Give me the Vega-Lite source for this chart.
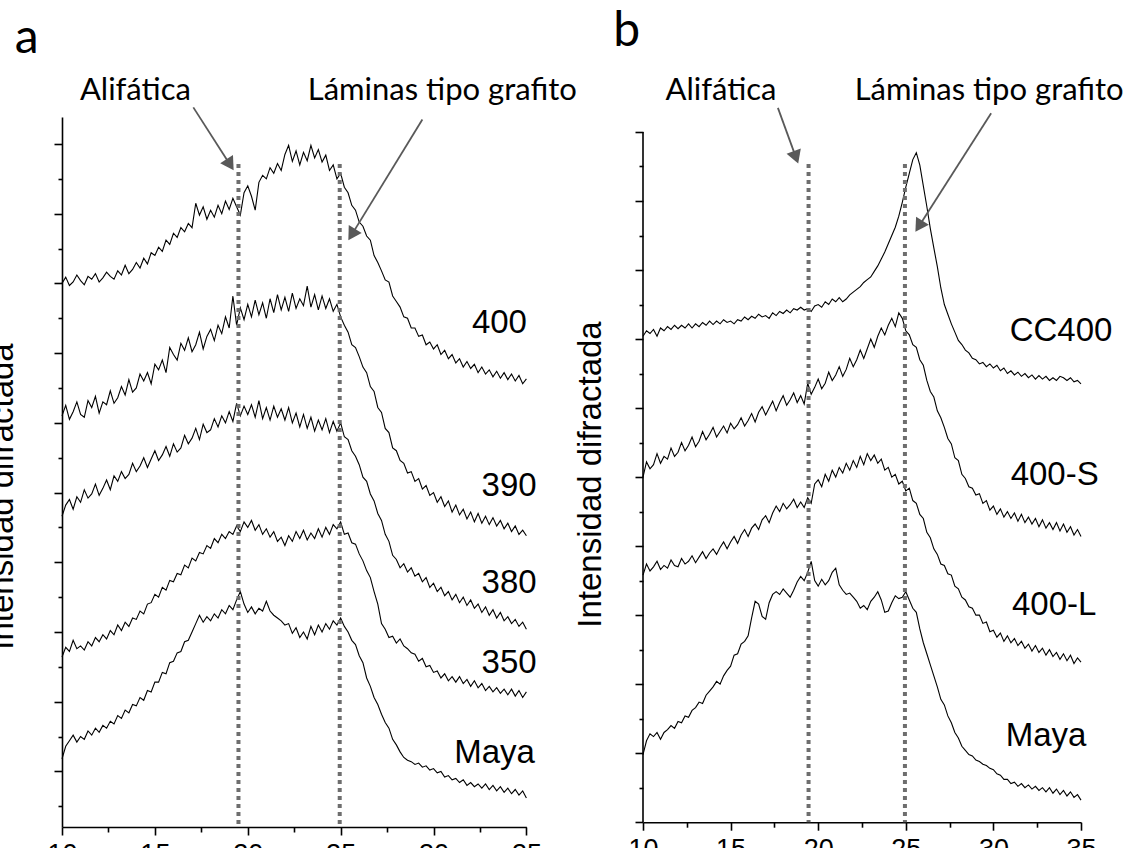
{
"$schema": "https://vega.github.io/schema/vega-lite/v6.json",
"padding": {"left": -14, "top": 8, "right": 0, "bottom": 0},
"background": "white",
"bounds": "flush",
"spacing": 116,
"config": {
  "view": {"stroke": null},
  "axis": {"grid": false, "domainColor": "#000", "tickColor": "#000", "domainWidth": 1.6, "tickWidth": 1.6, "labelColor": "#000", "labelFont": "Liberation Sans", "titleFont": "Liberation Sans", "titleFontWeight": "normal", "titleColor": "#000"}
},
"datasets": {
"a": [
{"x":10.0,"400":8.00,"390":6.10,"380":4.66,"350":2.64,"Maya":1.18},
{"x":10.2,"400":8.09,"390":6.25,"380":4.82,"350":2.78,"Maya":1.36},
{"x":10.4,"400":7.97,"390":6.05,"380":4.90,"350":2.72,"Maya":1.44},
{"x":10.6,"400":8.02,"390":6.16,"380":4.76,"350":2.88,"Maya":1.52},
{"x":10.8,"400":8.12,"390":6.30,"380":4.94,"350":2.76,"Maya":1.42},
{"x":11.0,"400":8.04,"390":6.12,"380":4.86,"350":2.80,"Maya":1.50},
{"x":11.2,"400":7.98,"390":6.08,"380":5.04,"350":2.74,"Maya":1.46},
{"x":11.4,"400":8.10,"390":6.32,"380":4.92,"350":2.86,"Maya":1.58},
{"x":11.6,"400":8.06,"390":6.22,"380":4.98,"350":2.80,"Maya":1.52},
{"x":11.8,"400":8.14,"390":6.38,"380":5.12,"350":2.92,"Maya":1.62},
{"x":12.0,"400":8.02,"390":6.14,"380":4.96,"350":2.86,"Maya":1.56},
{"x":12.2,"400":8.08,"390":6.30,"380":5.06,"350":2.96,"Maya":1.66},
{"x":12.4,"400":8.16,"390":6.26,"380":5.18,"350":2.90,"Maya":1.62},
{"x":12.6,"400":8.10,"390":6.46,"380":5.04,"350":3.02,"Maya":1.72},
{"x":12.8,"400":8.06,"390":6.28,"380":5.24,"350":2.96,"Maya":1.68},
{"x":13.0,"400":8.18,"390":6.36,"380":5.16,"350":3.10,"Maya":1.80},
{"x":13.2,"400":8.12,"390":6.52,"380":5.30,"350":3.02,"Maya":1.76},
{"x":13.4,"400":8.26,"390":6.40,"380":5.20,"350":3.14,"Maya":1.88},
{"x":13.6,"400":8.14,"390":6.62,"380":5.26,"350":3.08,"Maya":1.84},
{"x":13.8,"400":8.20,"390":6.44,"380":5.42,"350":3.20,"Maya":1.96},
{"x":14.0,"400":8.30,"390":6.50,"380":5.30,"350":3.18,"Maya":1.94},
{"x":14.2,"400":8.22,"390":6.70,"380":5.38,"350":3.30,"Maya":2.06},
{"x":14.4,"400":8.36,"390":6.60,"380":5.50,"350":3.26,"Maya":2.02},
{"x":14.6,"400":8.28,"390":6.72,"380":5.36,"350":3.40,"Maya":2.16},
{"x":14.8,"400":8.44,"390":6.56,"380":5.48,"350":3.42,"Maya":2.14},
{"x":15.0,"400":8.40,"390":6.84,"380":5.60,"350":3.54,"Maya":2.28},
{"x":15.2,"400":8.52,"390":6.76,"380":5.46,"350":3.50,"Maya":2.28},
{"x":15.4,"400":8.46,"390":6.90,"380":5.54,"350":3.64,"Maya":2.42},
{"x":15.6,"400":8.62,"390":6.72,"380":5.66,"350":3.60,"Maya":2.40},
{"x":15.8,"400":8.56,"390":7.08,"380":5.52,"350":3.74,"Maya":2.56},
{"x":16.0,"400":8.72,"390":6.98,"380":5.70,"350":3.72,"Maya":2.58},
{"x":16.2,"400":8.66,"390":6.90,"380":5.58,"350":3.84,"Maya":2.70},
{"x":16.4,"400":8.80,"390":7.14,"380":5.64,"350":3.82,"Maya":2.72},
{"x":16.6,"400":8.74,"390":7.04,"380":5.82,"350":3.96,"Maya":2.86},
{"x":16.8,"400":8.86,"390":7.22,"380":5.70,"350":3.92,"Maya":2.88},
{"x":17.0,"400":8.80,"390":7.02,"380":5.78,"350":4.06,"Maya":3.00},
{"x":17.2,"400":9.15,"390":7.12,"380":5.92,"350":4.02,"Maya":3.12},
{"x":17.4,"400":8.98,"390":7.30,"380":5.76,"350":4.14,"Maya":3.24},
{"x":17.6,"400":9.10,"390":7.06,"380":5.98,"350":4.12,"Maya":3.14},
{"x":17.8,"400":8.92,"390":7.24,"380":5.86,"350":4.24,"Maya":3.22},
{"x":18.0,"400":9.05,"390":7.34,"380":5.90,"350":4.20,"Maya":3.16},
{"x":18.2,"400":8.95,"390":7.18,"380":6.06,"350":4.34,"Maya":3.26},
{"x":18.4,"400":9.12,"390":7.40,"380":5.94,"350":4.28,"Maya":3.20},
{"x":18.6,"400":9.00,"390":7.28,"380":6.10,"350":4.40,"Maya":3.32},
{"x":18.8,"400":9.18,"390":7.52,"380":6.00,"350":4.34,"Maya":3.26},
{"x":19.0,"400":9.06,"390":7.36,"380":6.16,"350":4.44,"Maya":3.38},
{"x":19.2,"400":9.22,"390":7.82,"380":6.02,"350":4.40,"Maya":3.32},
{"x":19.4,"400":9.10,"390":7.40,"380":6.28,"350":4.52,"Maya":3.46},
{"x":19.6,"400":8.98,"390":7.65,"380":6.10,"350":4.44,"Maya":3.58},
{"x":19.8,"400":9.30,"390":7.48,"380":6.24,"350":4.58,"Maya":3.40},
{"x":20.0,"400":9.40,"390":7.70,"380":6.12,"350":4.50,"Maya":3.28},
{"x":20.2,"400":9.25,"390":7.52,"380":6.26,"350":4.60,"Maya":3.36},
{"x":20.4,"400":9.05,"390":7.76,"380":6.08,"350":4.46,"Maya":3.26},
{"x":20.6,"400":9.45,"390":7.55,"380":6.32,"350":4.54,"Maya":3.34},
{"x":20.8,"400":9.55,"390":7.72,"380":6.06,"350":4.40,"Maya":3.30},
{"x":21.0,"400":9.50,"390":7.50,"380":6.22,"350":4.48,"Maya":3.44},
{"x":21.2,"400":9.66,"390":7.78,"380":6.04,"350":4.36,"Maya":3.30},
{"x":21.4,"400":9.58,"390":7.58,"380":6.24,"350":4.44,"Maya":3.24},
{"x":21.6,"400":9.72,"390":7.84,"380":6.08,"350":4.30,"Maya":3.20},
{"x":21.8,"400":9.62,"390":7.62,"380":6.20,"350":4.36,"Maya":3.16},
{"x":22.0,"400":9.85,"390":7.80,"380":6.04,"350":4.24,"Maya":3.10},
{"x":22.2,"400":9.98,"390":7.60,"380":6.22,"350":4.38,"Maya":3.12},
{"x":22.4,"400":9.75,"390":7.86,"380":6.00,"350":4.30,"Maya":2.98},
{"x":22.6,"400":9.90,"390":7.64,"380":6.14,"350":4.44,"Maya":3.06},
{"x":22.8,"400":9.70,"390":7.78,"380":5.94,"350":4.34,"Maya":2.92},
{"x":23.0,"400":9.88,"390":7.68,"380":6.12,"350":4.46,"Maya":3.00},
{"x":23.2,"400":9.76,"390":7.96,"380":5.92,"350":4.32,"Maya":2.90},
{"x":23.4,"400":9.98,"390":7.66,"380":6.08,"350":4.42,"Maya":3.08},
{"x":23.6,"400":9.80,"390":7.84,"380":5.88,"350":4.34,"Maya":2.96},
{"x":23.8,"400":9.92,"390":7.62,"380":6.04,"350":4.48,"Maya":3.10},
{"x":24.0,"400":9.74,"390":7.82,"380":5.90,"350":4.36,"Maya":3.00},
{"x":24.2,"400":9.84,"390":7.64,"380":6.06,"350":4.50,"Maya":3.12},
{"x":24.4,"400":9.62,"390":7.78,"380":5.86,"350":4.40,"Maya":3.04},
{"x":24.6,"400":9.70,"390":7.60,"380":6.02,"350":4.54,"Maya":3.16},
{"x":24.8,"400":9.50,"390":7.70,"380":5.88,"350":4.48,"Maya":3.10},
{"x":25.0,"400":9.58,"390":7.52,"380":6.00,"350":4.58,"Maya":3.20},
{"x":25.2,"400":9.38,"390":7.40,"380":5.80,"350":4.40,"Maya":3.08},
{"x":25.4,"400":9.30,"390":7.30,"380":5.76,"350":4.42,"Maya":3.00},
{"x":25.6,"400":9.12,"390":7.12,"380":5.60,"350":4.28,"Maya":2.88},
{"x":25.8,"400":9.05,"390":7.08,"380":5.52,"350":4.26,"Maya":2.82},
{"x":26.0,"400":8.88,"390":6.95,"380":5.40,"350":4.12,"Maya":2.66},
{"x":26.2,"400":8.82,"390":6.80,"380":5.22,"350":4.02,"Maya":2.56},
{"x":26.4,"400":8.68,"390":6.72,"380":5.16,"350":3.88,"Maya":2.34},
{"x":26.6,"400":8.62,"390":6.52,"380":4.98,"350":3.78,"Maya":2.22},
{"x":26.8,"400":8.40,"390":6.45,"380":4.88,"350":3.58,"Maya":2.06},
{"x":27.0,"400":8.30,"390":6.22,"380":4.70,"350":3.40,"Maya":1.96},
{"x":27.2,"400":8.18,"390":6.15,"380":4.60,"350":3.12,"Maya":1.82},
{"x":27.4,"400":8.05,"390":5.92,"380":4.40,"350":3.04,"Maya":1.70},
{"x":27.6,"400":8.02,"390":5.86,"380":4.30,"350":2.92,"Maya":1.62},
{"x":27.8,"400":7.82,"390":5.64,"380":4.10,"350":2.94,"Maya":1.46},
{"x":28.0,"400":7.74,"390":5.60,"380":4.04,"350":2.84,"Maya":1.38},
{"x":28.2,"400":7.66,"390":5.46,"380":3.92,"350":2.90,"Maya":1.28},
{"x":28.4,"400":7.52,"390":5.42,"380":3.98,"350":2.80,"Maya":1.20},
{"x":28.6,"400":7.50,"390":5.28,"380":3.86,"350":2.76,"Maya":1.16},
{"x":28.8,"400":7.36,"390":5.30,"380":3.92,"350":2.70,"Maya":1.14},
{"x":29.0,"400":7.36,"390":5.16,"380":3.80,"350":2.68,"Maya":1.10},
{"x":29.2,"400":7.24,"390":5.20,"380":3.84,"350":2.58,"Maya":1.12},
{"x":29.4,"400":7.26,"390":5.05,"380":3.72,"350":2.62,"Maya":1.06},
{"x":29.6,"400":7.12,"390":5.10,"380":3.78,"350":2.50,"Maya":1.08},
{"x":29.8,"400":7.16,"390":4.96,"380":3.64,"350":2.52,"Maya":1.02},
{"x":30.0,"400":7.06,"390":5.00,"380":3.70,"350":2.42,"Maya":1.04},
{"x":30.2,"400":7.12,"390":4.86,"380":3.58,"350":2.44,"Maya":0.98},
{"x":30.4,"400":6.98,"390":4.94,"380":3.64,"350":2.34,"Maya":1.00},
{"x":30.6,"400":7.04,"390":4.80,"380":3.52,"350":2.40,"Maya":0.92},
{"x":30.8,"400":6.92,"390":4.88,"380":3.58,"350":2.30,"Maya":0.94},
{"x":31.0,"400":6.98,"390":4.72,"380":3.46,"350":2.36,"Maya":0.88},
{"x":31.2,"400":6.86,"390":4.82,"380":3.54,"350":2.28,"Maya":0.90},
{"x":31.4,"400":6.92,"390":4.68,"380":3.42,"350":2.36,"Maya":0.84},
{"x":31.6,"400":6.80,"390":4.76,"380":3.50,"350":2.26,"Maya":0.88},
{"x":31.8,"400":6.88,"390":4.62,"380":3.38,"350":2.32,"Maya":0.80},
{"x":32.0,"400":6.78,"390":4.72,"380":3.46,"350":2.22,"Maya":0.84},
{"x":32.2,"400":6.84,"390":4.58,"380":3.34,"350":2.30,"Maya":0.78},
{"x":32.4,"400":6.72,"390":4.70,"380":3.40,"350":2.20,"Maya":0.82},
{"x":32.6,"400":6.80,"390":4.56,"380":3.28,"350":2.26,"Maya":0.76},
{"x":32.8,"400":6.70,"390":4.66,"380":3.36,"350":2.16,"Maya":0.82},
{"x":33.0,"400":6.76,"390":4.54,"380":3.24,"350":2.22,"Maya":0.74},
{"x":33.2,"400":6.66,"390":4.64,"380":3.32,"350":2.14,"Maya":0.80},
{"x":33.4,"400":6.74,"390":4.52,"380":3.20,"350":2.20,"Maya":0.72},
{"x":33.6,"400":6.64,"390":4.60,"380":3.28,"350":2.12,"Maya":0.78},
{"x":33.8,"400":6.72,"390":4.48,"380":3.16,"350":2.18,"Maya":0.70},
{"x":34.0,"400":6.62,"390":4.56,"380":3.22,"350":2.10,"Maya":0.76},
{"x":34.2,"400":6.70,"390":4.44,"380":3.12,"350":2.18,"Maya":0.68},
{"x":34.4,"400":6.60,"390":4.52,"380":3.18,"350":2.08,"Maya":0.74},
{"x":34.6,"400":6.68,"390":4.40,"380":3.08,"350":2.16,"Maya":0.66},
{"x":34.8,"400":6.56,"390":4.46,"380":3.14,"350":2.06,"Maya":0.72},
{"x":35.0,"400":6.63,"390":4.38,"380":3.04,"350":2.14,"Maya":0.62}
],
"b": [
{"x":10.0,"CC400":7.04,"400-S":5.00,"400-L":3.58,"Maya":0.98},
{"x":10.2,"CC400":7.12,"400-S":5.22,"400-L":3.74,"Maya":1.18},
{"x":10.4,"CC400":7.08,"400-S":5.12,"400-L":3.64,"Maya":1.28},
{"x":10.6,"CC400":7.14,"400-S":5.18,"400-L":3.70,"Maya":1.24},
{"x":10.8,"CC400":7.04,"400-S":5.34,"400-L":3.78,"Maya":1.30},
{"x":11.0,"CC400":7.16,"400-S":5.20,"400-L":3.66,"Maya":1.20},
{"x":11.2,"CC400":7.12,"400-S":5.30,"400-L":3.72,"Maya":1.30},
{"x":11.4,"CC400":7.18,"400-S":5.26,"400-L":3.68,"Maya":1.34},
{"x":11.6,"CC400":7.14,"400-S":5.42,"400-L":3.80,"Maya":1.40},
{"x":11.8,"CC400":7.20,"400-S":5.30,"400-L":3.72,"Maya":1.36},
{"x":12.0,"CC400":7.15,"400-S":5.36,"400-L":3.70,"Maya":1.46},
{"x":12.2,"CC400":7.20,"400-S":5.50,"400-L":3.82,"Maya":1.44},
{"x":12.4,"CC400":7.16,"400-S":5.38,"400-L":3.74,"Maya":1.54},
{"x":12.6,"CC400":7.22,"400-S":5.46,"400-L":3.78,"Maya":1.52},
{"x":12.8,"CC400":7.16,"400-S":5.58,"400-L":3.86,"Maya":1.62},
{"x":13.0,"CC400":7.22,"400-S":5.44,"400-L":3.76,"Maya":1.66},
{"x":13.2,"CC400":7.18,"400-S":5.52,"400-L":3.84,"Maya":1.74},
{"x":13.4,"CC400":7.24,"400-S":5.66,"400-L":3.92,"Maya":1.72},
{"x":13.6,"CC400":7.20,"400-S":5.54,"400-L":3.82,"Maya":1.84},
{"x":13.8,"CC400":7.26,"400-S":5.62,"400-L":3.90,"Maya":1.90},
{"x":14.0,"CC400":7.21,"400-S":5.72,"400-L":3.96,"Maya":1.96},
{"x":14.2,"CC400":7.26,"400-S":5.58,"400-L":3.88,"Maya":2.04},
{"x":14.4,"CC400":7.22,"400-S":5.66,"400-L":3.98,"Maya":2.00},
{"x":14.6,"CC400":7.28,"400-S":5.74,"400-L":4.06,"Maya":2.12},
{"x":14.8,"CC400":7.24,"400-S":5.64,"400-L":3.96,"Maya":2.20},
{"x":15.0,"CC400":7.26,"400-S":5.78,"400-L":4.06,"Maya":2.26},
{"x":15.2,"CC400":7.22,"400-S":5.70,"400-L":4.14,"Maya":2.42},
{"x":15.4,"CC400":7.28,"400-S":5.76,"400-L":4.04,"Maya":2.44},
{"x":15.6,"CC400":7.26,"400-S":5.86,"400-L":4.16,"Maya":2.58},
{"x":15.8,"CC400":7.32,"400-S":5.74,"400-L":4.24,"Maya":2.62},
{"x":16.0,"CC400":7.28,"400-S":5.82,"400-L":4.14,"Maya":2.70},
{"x":16.2,"CC400":7.33,"400-S":5.92,"400-L":4.26,"Maya":2.96},
{"x":16.4,"CC400":7.30,"400-S":5.80,"400-L":4.32,"Maya":3.20},
{"x":16.6,"CC400":7.36,"400-S":5.94,"400-L":4.24,"Maya":3.16},
{"x":16.8,"CC400":7.32,"400-S":6.02,"400-L":4.38,"Maya":2.98},
{"x":17.0,"CC400":7.34,"400-S":5.90,"400-L":4.44,"Maya":2.94},
{"x":17.2,"CC400":7.30,"400-S":6.00,"400-L":4.34,"Maya":3.18},
{"x":17.4,"CC400":7.38,"400-S":6.10,"400-L":4.48,"Maya":3.30},
{"x":17.6,"CC400":7.34,"400-S":5.96,"400-L":4.58,"Maya":3.34},
{"x":17.8,"CC400":7.40,"400-S":6.08,"400-L":4.50,"Maya":3.30},
{"x":18.0,"CC400":7.37,"400-S":6.18,"400-L":4.62,"Maya":3.38},
{"x":18.2,"CC400":7.42,"400-S":6.04,"400-L":4.54,"Maya":3.32},
{"x":18.4,"CC400":7.38,"400-S":6.12,"400-L":4.60,"Maya":3.26},
{"x":18.6,"CC400":7.44,"400-S":6.22,"400-L":4.68,"Maya":3.36},
{"x":18.8,"CC400":7.42,"400-S":6.08,"400-L":4.56,"Maya":3.48},
{"x":19.0,"CC400":7.46,"400-S":6.18,"400-L":4.64,"Maya":3.56},
{"x":19.2,"CC400":7.42,"400-S":6.06,"400-L":4.56,"Maya":3.50},
{"x":19.4,"CC400":7.44,"400-S":6.36,"400-L":4.70,"Maya":3.62},
{"x":19.6,"CC400":7.40,"400-S":6.20,"400-L":4.62,"Maya":3.78},
{"x":19.8,"CC400":7.48,"400-S":6.30,"400-L":4.90,"Maya":3.50},
{"x":20.0,"CC400":7.50,"400-S":6.42,"400-L":4.96,"Maya":3.42},
{"x":20.2,"CC400":7.46,"400-S":6.28,"400-L":4.86,"Maya":3.52},
{"x":20.4,"CC400":7.54,"400-S":6.36,"400-L":5.04,"Maya":3.44},
{"x":20.6,"CC400":7.50,"400-S":6.52,"400-L":4.94,"Maya":3.50},
{"x":20.8,"CC400":7.58,"400-S":6.40,"400-L":5.10,"Maya":3.62},
{"x":21.0,"CC400":7.54,"400-S":6.48,"400-L":5.00,"Maya":3.68},
{"x":21.2,"CC400":7.60,"400-S":6.60,"400-L":5.14,"Maya":3.44},
{"x":21.4,"CC400":7.54,"400-S":6.46,"400-L":5.06,"Maya":3.36},
{"x":21.6,"CC400":7.58,"400-S":6.56,"400-L":5.20,"Maya":3.30},
{"x":21.8,"CC400":7.64,"400-S":6.72,"400-L":5.10,"Maya":3.32},
{"x":22.0,"CC400":7.68,"400-S":6.60,"400-L":5.24,"Maya":3.26},
{"x":22.2,"CC400":7.72,"400-S":6.70,"400-L":5.14,"Maya":3.20},
{"x":22.4,"CC400":7.76,"400-S":6.84,"400-L":5.30,"Maya":3.10},
{"x":22.6,"CC400":7.82,"400-S":6.72,"400-L":5.18,"Maya":3.14},
{"x":22.8,"CC400":7.86,"400-S":6.86,"400-L":5.34,"Maya":3.08},
{"x":23.0,"CC400":7.90,"400-S":7.00,"400-L":5.24,"Maya":3.20},
{"x":23.2,"CC400":7.98,"400-S":6.88,"400-L":5.32,"Maya":3.26},
{"x":23.4,"CC400":8.06,"400-S":7.04,"400-L":5.20,"Maya":3.34},
{"x":23.6,"CC400":8.16,"400-S":7.16,"400-L":5.26,"Maya":3.22},
{"x":23.8,"CC400":8.26,"400-S":7.06,"400-L":5.10,"Maya":3.04},
{"x":24.0,"CC400":8.38,"400-S":7.20,"400-L":5.14,"Maya":3.06},
{"x":24.2,"CC400":8.50,"400-S":7.30,"400-L":5.00,"Maya":3.18},
{"x":24.4,"CC400":8.62,"400-S":7.18,"400-L":5.04,"Maya":3.28},
{"x":24.6,"CC400":8.78,"400-S":7.38,"400-L":4.90,"Maya":3.24},
{"x":24.8,"CC400":8.98,"400-S":7.30,"400-L":4.94,"Maya":3.26},
{"x":25.0,"CC400":9.20,"400-S":7.12,"400-L":4.80,"Maya":3.34},
{"x":25.2,"CC400":9.40,"400-S":7.06,"400-L":4.84,"Maya":3.22},
{"x":25.4,"CC400":9.60,"400-S":6.92,"400-L":4.66,"Maya":3.10},
{"x":25.6,"CC400":9.70,"400-S":6.88,"400-L":4.62,"Maya":3.04},
{"x":25.8,"CC400":9.52,"400-S":6.70,"400-L":4.46,"Maya":2.80},
{"x":26.0,"CC400":9.22,"400-S":6.62,"400-L":4.40,"Maya":2.60},
{"x":26.2,"CC400":8.92,"400-S":6.40,"400-L":4.20,"Maya":2.44},
{"x":26.4,"CC400":8.60,"400-S":6.24,"400-L":4.12,"Maya":2.28},
{"x":26.6,"CC400":8.32,"400-S":6.16,"400-L":3.96,"Maya":2.12},
{"x":26.8,"CC400":8.05,"400-S":5.96,"400-L":3.88,"Maya":1.96},
{"x":27.0,"CC400":7.74,"400-S":5.86,"400-L":3.74,"Maya":1.78},
{"x":27.2,"CC400":7.50,"400-S":5.72,"400-L":3.72,"Maya":1.70},
{"x":27.4,"CC400":7.36,"400-S":5.56,"400-L":3.60,"Maya":1.54},
{"x":27.6,"CC400":7.22,"400-S":5.48,"400-L":3.58,"Maya":1.44},
{"x":27.8,"CC400":7.10,"400-S":5.28,"400-L":3.42,"Maya":1.30},
{"x":28.0,"CC400":6.98,"400-S":5.24,"400-L":3.38,"Maya":1.22},
{"x":28.2,"CC400":6.92,"400-S":5.04,"400-L":3.26,"Maya":1.10},
{"x":28.4,"CC400":6.84,"400-S":4.98,"400-L":3.22,"Maya":1.04},
{"x":28.6,"CC400":6.80,"400-S":4.86,"400-L":3.12,"Maya":0.98},
{"x":28.8,"CC400":6.72,"400-S":4.84,"400-L":3.10,"Maya":0.96},
{"x":29.0,"CC400":6.70,"400-S":4.74,"400-L":3.00,"Maya":0.90},
{"x":29.2,"CC400":6.64,"400-S":4.76,"400-L":3.00,"Maya":0.88},
{"x":29.4,"CC400":6.66,"400-S":4.62,"400-L":2.88,"Maya":0.84},
{"x":29.6,"CC400":6.60,"400-S":4.66,"400-L":2.90,"Maya":0.82},
{"x":29.8,"CC400":6.64,"400-S":4.52,"400-L":2.76,"Maya":0.78},
{"x":30.0,"CC400":6.58,"400-S":4.58,"400-L":2.78,"Maya":0.76},
{"x":30.2,"CC400":6.62,"400-S":4.46,"400-L":2.68,"Maya":0.70},
{"x":30.4,"CC400":6.54,"400-S":4.54,"400-L":2.74,"Maya":0.68},
{"x":30.6,"CC400":6.58,"400-S":4.42,"400-L":2.62,"Maya":0.62},
{"x":30.8,"CC400":6.50,"400-S":4.50,"400-L":2.70,"Maya":0.62},
{"x":31.0,"CC400":6.54,"400-S":4.40,"400-L":2.60,"Maya":0.56},
{"x":31.2,"CC400":6.48,"400-S":4.48,"400-L":2.66,"Maya":0.58},
{"x":31.4,"CC400":6.52,"400-S":4.36,"400-L":2.56,"Maya":0.52},
{"x":31.6,"CC400":6.46,"400-S":4.46,"400-L":2.62,"Maya":0.56},
{"x":31.8,"CC400":6.50,"400-S":4.34,"400-L":2.52,"Maya":0.50},
{"x":32.0,"CC400":6.44,"400-S":4.42,"400-L":2.58,"Maya":0.54},
{"x":32.2,"CC400":6.48,"400-S":4.32,"400-L":2.48,"Maya":0.48},
{"x":32.4,"CC400":6.42,"400-S":4.40,"400-L":2.56,"Maya":0.52},
{"x":32.6,"CC400":6.47,"400-S":4.28,"400-L":2.46,"Maya":0.46},
{"x":32.8,"CC400":6.42,"400-S":4.38,"400-L":2.52,"Maya":0.50},
{"x":33.0,"CC400":6.46,"400-S":4.26,"400-L":2.42,"Maya":0.44},
{"x":33.2,"CC400":6.40,"400-S":4.34,"400-L":2.50,"Maya":0.50},
{"x":33.4,"CC400":6.44,"400-S":4.24,"400-L":2.40,"Maya":0.42},
{"x":33.6,"CC400":6.40,"400-S":4.34,"400-L":2.46,"Maya":0.48},
{"x":33.8,"CC400":6.46,"400-S":4.22,"400-L":2.36,"Maya":0.40},
{"x":34.0,"CC400":6.44,"400-S":4.32,"400-L":2.44,"Maya":0.46},
{"x":34.2,"CC400":6.40,"400-S":4.20,"400-L":2.34,"Maya":0.38},
{"x":34.4,"CC400":6.44,"400-S":4.28,"400-L":2.42,"Maya":0.44},
{"x":34.6,"CC400":6.38,"400-S":4.16,"400-L":2.30,"Maya":0.36},
{"x":34.8,"CC400":6.40,"400-S":4.24,"400-L":2.38,"Maya":0.40},
{"x":35.0,"CC400":6.35,"400-S":4.14,"400-L":2.32,"Maya":0.32}
]
},
"hconcat": [
{
"width": 464.4, "height": 710,
"encoding": {
  "x": {"field": "x", "type": "quantitative", "scale": {"domain": [10,35], "nice": false, "zero": false},
        "axis": {"title": null, "values": [10,12.5,15,17.5,20,22.5,25,27.5,30,32.5,35], "labelExpr": "datum.value % 5 === 0 ? datum.label : ''", "tickSize": {"condition": {"test": "datum.value % 5 === 0", "value": 8}, "value": 5}, "labelFontSize": 27, "labelPadding": 6, "labelFlush": false, "labelOverlap": false}},
  "y": {"field": "y", "type": "quantitative", "scale": {"domain": [0.2024,10.387], "nice": false, "zero": false},
        "axis": {"title": "Intensidad difractada", "values": [0.5,1,1.5,2,2.5,3,3.5,4,4.5,5,5.5,6,6.5,7,7.5,8,8.5,9,9.5,10], "labels": false, "tickSize": {"condition": {"test": "datum.value % 1 === 0", "value": 8}, "value": 4}, "titleFontSize": 33, "titleAngle": -90, "titleX": -50, "titleY": 379, "titleAlign": "center", "titleBaseline": "alphabetic"}}
},
"layer": [
{"data": {"name": "a"},
 "transform": [{"fold": ["400","390","380","350","Maya"], "as": ["s","y"]}],
 "mark": {"type": "line", "color": "#000", "strokeWidth": 1.1},
 "encoding": {"detail": {"field": "s"}}},
{"data": {"values": [{"x":19.5,"y":9.713,"y2":0.2024},{"x":24.95,"y":9.713,"y2":0.2024}]},
 "mark": {"type": "rule", "color": "#6e6e6e", "strokeWidth": 4, "strokeDash": [4,4]},
 "encoding": {"y2": {"field": "y2"}}},
{"data": {"values": [{"x":17.07,"y":10.525,"x2":19.05,"y2":9.703},{"x":29.40,"y":10.35,"x2":25.60,"y2":8.70}]},
 "mark": {"type": "rule", "color": "#595959", "strokeWidth": 1.8},
 "encoding": {"x2": {"field": "x2"}, "y2": {"field": "y2"}}},
{"data": {"values": [{"x":19.05,"y":9.703}]},
 "mark": {"type": "point", "shape": "triangle-down", "filled": true, "color": "#595959", "size": 230, "angle": -32.6, "opacity": 1},
 "encoding": {}},
{"data": {"values": [{"x":25.60,"y":8.70}]},
 "mark": {"type": "point", "shape": "triangle-down", "filled": true, "color": "#595959", "size": 230, "angle": 31.6, "opacity": 1},
 "encoding": {}},
{"data": {"values": [{"t":"400","x":35.03,"y":7.293},{"t":"390","x":35.55,"y":4.945},{"t":"380","x":35.55,"y":3.559},{"t":"350","x":35.55,"y":2.412},{"t":"Maya","x":35.46,"y":1.12}]},
 "mark": {"type": "text", "align": "right", "baseline": "alphabetic", "font": "Liberation Sans", "fontSize": 33, "color": "#000"},
 "encoding": {"text": {"field": "t"}}},
{"data": {"values": [{"t":"Alifática","x":13.95,"y":10.636},{"t":"Láminas tipo grafito","x":30.47,"y":10.636}]},
 "mark": {"type": "text", "align": "center", "baseline": "alphabetic", "font": "Lato", "fontSize": 31, "color": "#000"},
 "encoding": {"text": {"field": "t"}}},
{"data": {"values": [{"t":"a","x":7.45,"y":11.30}]},
 "mark": {"type": "text", "align": "left", "baseline": "alphabetic", "font": "Lato", "fontSize": 48, "color": "#000"},
 "encoding": {"text": {"field": "t"}}}
]
},
{
"width": 438, "height": 705.2,
"encoding": {
  "x": {"field": "x", "type": "quantitative", "scale": {"domain": [10,35], "nice": false, "zero": false},
        "axis": {"title": null, "values": [10,12.5,15,17.5,20,22.5,25,27.5,30,32.5,35], "labelExpr": "datum.value % 5 === 0 ? datum.label : ''", "tickSize": {"condition": {"test": "datum.value % 5 === 0", "value": 8}, "value": 5}, "labelFontSize": 27, "labelPadding": 6, "labelFlush": false, "labelOverlap": false}},
  "y": {"field": "y", "type": "quantitative", "scale": {"domain": [0,10.217], "nice": false, "zero": false},
        "axis": {"title": "Intensidad difractada", "domain": false, "values": [0,0.5,1,1.5,2,2.5,3,3.5,4,4.5,5,5.5,6,6.5,7,7.5,8,8.5,9,9.5,10], "labels": false, "tickSize": {"condition": {"test": "datum.value % 1 === 0", "value": 8}, "value": 4}, "titleFontSize": 33, "titleAngle": -90, "titleX": -43, "titleY": 357, "titleAlign": "center", "titleBaseline": "alphabetic"}}
},
"layer": [
{"data": {"name": "b"},
 "transform": [{"fold": ["CC400","400-S","400-L","Maya"], "as": ["s","y"]}],
 "mark": {"type": "line", "color": "#000", "strokeWidth": 1.1},
 "encoding": {"detail": {"field": "s"}}},
{"data": {"values": [{"x":10,"y":0,"y2":10}]},
 "mark": {"type": "rule", "color": "#000", "strokeWidth": 1.6},
 "encoding": {"y2": {"field": "y2"}}},
{"data": {"values": [{"x":19.45,"y":9.536,"y2":0},{"x":24.95,"y":9.536,"y2":0}]},
 "mark": {"type": "rule", "color": "#6e6e6e", "strokeWidth": 4, "strokeDash": [4,4]},
 "encoding": {"y2": {"field": "y2"}}},
{"data": {"values": [{"x":17.70,"y":10.35,"x2":18.73,"y2":9.632},{"x":29.87,"y":10.27,"x2":25.75,"y2":8.634}]},
 "mark": {"type": "rule", "color": "#595959", "strokeWidth": 1.8},
 "encoding": {"x2": {"field": "x2"}, "y2": {"field": "y2"}}},
{"data": {"values": [{"x":18.73,"y":9.632}]},
 "mark": {"type": "point", "shape": "triangle-down", "filled": true, "color": "#595959", "size": 230, "angle": -20.2, "opacity": 1},
 "encoding": {}},
{"data": {"values": [{"x":25.75,"y":8.634}]},
 "mark": {"type": "point", "shape": "triangle-down", "filled": true, "color": "#595959", "size": 230, "angle": 32.5, "opacity": 1},
 "encoding": {}},
{"data": {"values": [{"t":"CC400","x":36.79,"y":6.966},{"t":"400-S","x":36.01,"y":4.89},{"t":"400-L","x":35.88,"y":3.006},{"t":"Maya","x":35.31,"y":1.098}]},
 "mark": {"type": "text", "align": "right", "baseline": "alphabetic", "font": "Liberation Sans", "fontSize": 33, "color": "#000"},
 "encoding": {"text": {"field": "t"}}},
{"data": {"values": [{"t":"Alifática","x":14.45,"y":10.468},{"t":"Láminas tipo grafito","x":29.76,"y":10.468}]},
 "mark": {"type": "text", "align": "center", "baseline": "alphabetic", "font": "Lato", "fontSize": 31, "color": "#000"},
 "encoding": {"text": {"field": "t"}}},
{"data": {"values": [{"t":"b","x":8.30,"y":11.24}]},
 "mark": {"type": "text", "align": "left", "baseline": "alphabetic", "font": "Lato", "fontSize": 48, "color": "#000"},
 "encoding": {"text": {"field": "t"}}}
]
}
]
}
